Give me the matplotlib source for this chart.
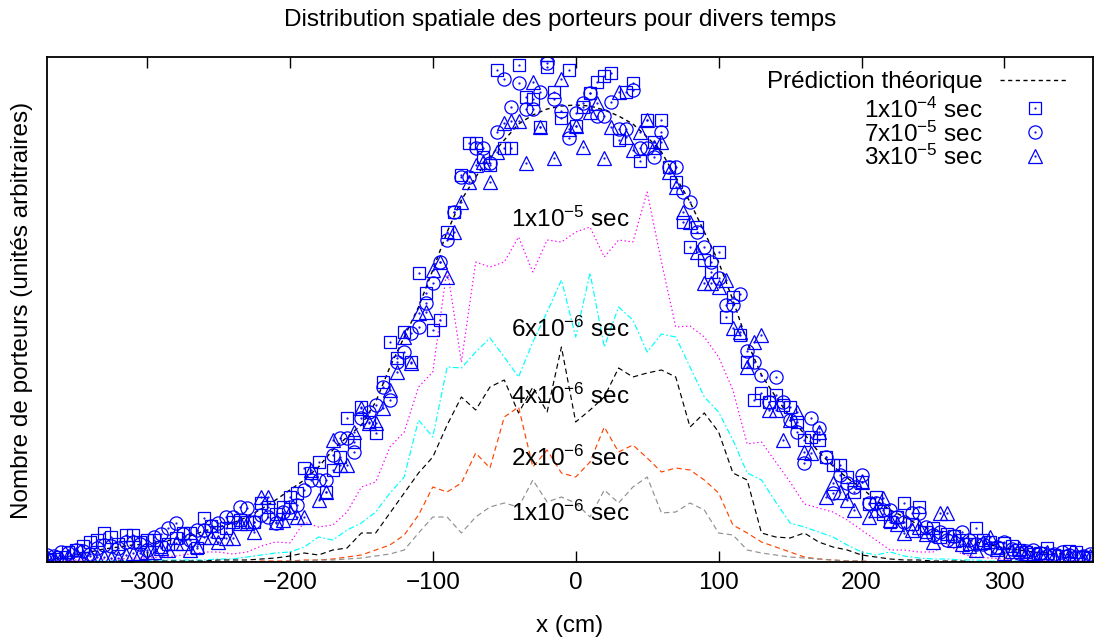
import numpy as np
import matplotlib
matplotlib.use('Agg')
import matplotlib.pyplot as plt

plt.rcParams['font.family'] = ['Liberation Sans', 'DejaVu Sans']
plt.rcParams['mathtext.fontset'] = 'custom'
plt.rcParams['mathtext.rm'] = 'Liberation Sans'
plt.rcParams['mathtext.default'] = 'regular'
FS = 17.5

# positions (cm), one value every 10 cm, plus the half steps for the measured points
x_cm = np.arange(-370, 361, 10)
x_half = np.arange(-365, 356, 10)

# theoretical prediction (arbitrary units)
theorie = [2, 4, 7, 10, 13, 15, 17, 18, 20, 23,
           26, 31, 35, 39, 45, 53, 62, 72, 82, 95,
           112, 125, 137, 160, 195, 225, 255, 292, 330, 362,
           385, 405, 422, 438, 447, 453, 456, 457, 456, 452,
           446, 438, 425, 410, 385, 360, 330, 300, 262, 220,
           187, 165, 145, 128, 110, 96, 84, 74, 62, 52,
           45, 37, 32, 28, 24, 20, 17, 14, 12, 10,
           9, 8, 7, 6]

# measured points, on x_cm
pts_1e4 = [2, 5, 12, 20, 29, 18, 27, 22, 15, 24,
           29, 44, 30, 40, 40, 59, 48, 65, 94, 100,
           92, 144, 155, 129, 220, 230, 289, 232, 330, 387,
           419, 397, 414, 497, 463, 495, 444, 436, 469, 486,
           422, 479, 442, 442, 380, 315, 302, 310, 265, 200,
           169, 167, 155, 122, 122, 97, 85, 80, 65, 40,
           59, 55, 34, 28, 22, 34, 20, 19, 12, 8,
           14, 6, 10, 4]
pts_7e5 = [7, 10, 12, 8, 17, 14, 20, 12, 28, 39,
           22, 32, 39, 45, 54, 47, 39, 55, 72, 82,
           107, 124, 144, 157, 162, 210, 235, 279, 322, 385,
           414, 399, 483, 479, 453, 499, 451, 449, 469, 446,
           433, 472, 414, 430, 395, 360, 315, 284, 257, 211,
           187, 185, 142, 99, 134, 69, 79, 87, 59, 52,
           40, 49, 27, 22, 30, 18, 14, 20, 9, 12,
           6, 10, 5, 8]
pts_3e5 = [5, 4, 8, 6, 5, 4, 9, 10, 14, 19,
           12, 25, 20, 24, 39, 65, 40, 50, 45, 62,
           122, 97, 154, 139, 172, 225, 249, 292, 285, 360,
           397, 380, 439, 441, 480, 508, 483, 436, 450, 404,
           470, 412, 442, 420, 375, 340, 279, 275, 234, 195,
           227, 152, 142, 110, 130, 79, 62, 80, 52, 42,
           29, 35, 20, 49, 18, 12, 25, 9, 14, 7,
           10, 5, 8, 6]

# measured points, on x_half
pts_1e4_b = [3, 10, 16, 22, 25, 27, 20, 22, 18, 29,
             14, 36, 34, 42, 40, 55, 55, 69, 89, 70,
             105, 120, 140, 180, 204, 200, 269, 242, 350, 419,
             405, 492, 414, 465, 435, 470, 492, 455, 480, 489,
             470, 401, 420, 395, 340, 335, 290, 245, 227, 162,
             160, 157, 140, 125, 105, 97, 70, 58, 48, 45,
             38, 30, 25, 26, 18, 22, 14, 16, 10, 9,
             7, 11, 5]
pts_7e5_b = [6, 9, 11, 14, 16, 20, 18, 25, 34, 28,
             32, 36, 45, 55, 40, 45, 50, 57, 82, 82,
             124, 110, 150, 175, 200, 229, 259, 300, 350, 385,
             414, 430, 455, 453, 470, 463, 424, 459, 446, 460,
             433, 414, 405, 395, 370, 330, 300, 257, 268, 200,
             160, 160, 130, 144, 105, 87, 75, 59, 52, 45,
             49, 35, 30, 26, 22, 18, 15, 13, 11, 9,
             8, 7, 6]
pts_3e5_b = [4, 6, 5, 5, 4, 7, 9, 10, 12, 19,
             16, 25, 24, 39, 30, 65, 42, 45, 92, 70,
             97, 130, 139, 154, 190, 199, 250, 300, 330, 380,
             400, 410, 441, 399, 435, 404, 433, 415, 459, 435,
             425, 430, 415, 390, 350, 310, 279, 282, 230, 220,
             152, 122, 150, 109, 65, 70, 52, 45, 64, 38,
             32, 28, 49, 22, 16, 20, 13, 11, 9, 8,
             6, 7, 5]

# simulated curves at early times
t_1e5 = [1, 1, 2, 2, 3, 3, 4, 4, 5, 6,
         8, 10, 10, 8, 10, 16, 20, 19, 40, 35,
         37, 50, 75, 80, 115, 130, 175, 190, 294, 200,
         300, 295, 300, 325, 290, 322, 320, 330, 335, 305,
         322, 320, 370, 300, 235, 236, 225, 205, 172, 118,
         120, 100, 80, 58, 54, 50, 42, 32, 22, 12,
         12, 10, 10, 18, 8, 5, 4, 3, 2, 2,
         1, 1, 1, 0]
t_6e6 = [0, 0, 0, 1, 1, 1, 1, 1, 2, 2,
         2, 2, 3, 3, 5, 7, 9, 10, 15, 25,
         22, 32, 39, 50, 69, 85, 142, 125, 195, 194,
         210, 224, 205, 185, 220, 250, 282, 225, 289, 215,
         255, 242, 210, 228, 225, 195, 165, 150, 122, 89,
         82, 60, 39, 35, 30, 25, 17, 10, 7, 10,
         6, 4, 3, 3, 2, 2, 1, 1, 1, 0,
         0, 0, 0, 0]
t_4e6 = [0, 0, 0, 0, 0, 1, 1, 1, 1, 1,
         1, 1, 2, 2, 2, 3, 4, 6, 9, 7,
         12, 14, 29, 29, 49, 69, 89, 105, 137, 165,
         152, 175, 182, 149, 175, 150, 215, 140, 152, 165,
         194, 185, 189, 192, 185, 135, 149, 130, 89, 82,
         29, 25, 24, 29, 20, 15, 12, 7, 5, 3,
         2, 2, 1, 1, 1, 0, 0, 0, 0, 0,
         0, 0, 0, 0]
t_2e6 = [0, 0, 0, 0, 0, 0, 0, 0, 0, 0,
         0, 0, 0, 0, 0, 1, 1, 1, 2, 2,
         3, 5, 7, 12, 17, 27, 47, 75, 70, 79,
         109, 94, 145, 155, 95, 112, 89, 85, 100, 135,
         110, 117, 104, 90, 94, 92, 82, 69, 37, 29,
         20, 15, 10, 5, 3, 2, 1, 1, 0, 0,
         0, 0, 0, 0, 0, 0, 0, 0, 0, 0,
         0, 0, 0, 0]
t_1e6 = [0, 0, 0, 0, 0, 0, 0, 0, 0, 0,
         0, 0, 0, 0, 0, 0, 0, 1, 1, 2,
         2, 3, 4, 6, 8, 12, 29, 45, 45, 29,
         45, 55, 59, 55, 82, 60, 65, 59, 45, 72,
         59, 75, 85, 49, 50, 59, 52, 29, 27, 12,
         9, 7, 5, 4, 3, 2, 1, 1, 0, 0,
         0, 0, 0, 0, 0, 0, 0, 0, 0, 0,
         0, 0, 0, 0]

courbe_labels = ['1x10$^{-5}$ sec', '6x10$^{-6}$ sec', '4x10$^{-6}$ sec',
                 '2x10$^{-6}$ sec', '1x10$^{-6}$ sec']
legend_labels = ['Prédiction théorique', '1x10$^{-4}$ sec',
                 '7x10$^{-5}$ sec', '3x10$^{-5}$ sec']

W, H = 1097, 642
fig = plt.figure(figsize=(W / 100, H / 100), dpi=100)
ax = fig.add_axes([47 / W, 80 / H, 1046 / W, 505 / H])

styles = [('#ff00ff', (0, (1.2, 2.2))),
          ('#00ffff', (0, (5, 2, 1.5, 2))),
          ('black', (0, (4.5, 3))),
          ('#ff4500', (0, (4.5, 3))),
          ('#909090', (0, (4.5, 3)))]
for vals, (col, ls) in zip([t_1e5, t_6e6, t_4e6, t_2e6, t_1e6], styles):
    ax.plot(x_cm, vals, color=col, ls=ls, lw=0.85)

ax.plot(x_cm, theorie, color='black', ls=(0, (3, 2.5)), lw=1.0)

blue = '#0000ff'
mk = [('s', 9), ('o', 9.5), ('^', 9.5)]
series = [(pts_1e4, pts_1e4_b), (pts_7e5, pts_7e5_b), (pts_3e5, pts_3e5_b)]
for (va, vb), (m, ms) in zip(series, mk):
    xx = np.concatenate([x_cm, x_half])
    yy = np.concatenate([va, vb])
    ax.plot(xx, yy, ls='none', marker=m, ms=ms, mfc='none', mec=blue, mew=0.9)
    ax.plot(xx, yy, ls='none', marker='.', ms=1.2, color=blue)

# labels of the early-time curves
label_y = [335, 225, 158, 96, 41]
for txt, yy in zip(courbe_labels, label_y):
    ax.text(-45, yy, txt, fontsize=FS, ha='left', va='baseline')

ax.set_xlim(-370, 362)
ax.set_ylim(0, 505)
ax.set_xticks([-300, -200, -100, 0, 100, 200, 300])
ax.set_yticks([])
ax.tick_params(axis='x', direction='in', top=True, length=8, width=1.0,
               labelsize=FS, pad=7)
for s in ax.spines.values():
    s.set_linewidth(1.3)

# legend drawn by hand (top right)
def fx(px):
    return px / W

def fy(py):
    return 1 - py / H

fig.text(fx(983), fy(88), legend_labels[0], fontsize=FS, ha='right', va='baseline')
fig.add_artist(plt.Line2D([fx(1000), fx(1066)], [fy(80), fy(80)], color='black',
                          ls=(0, (3, 2.5)), lw=1.0))
rows = [(118, 107.5), (142, 132), (165, 155.5)]
for lab, (m, ms), (base, my) in zip(legend_labels[1:], mk, rows):
    fig.text(fx(983), fy(base), lab, fontsize=FS, ha='right', va='baseline')
    fig.add_artist(plt.Line2D([fx(1035)], [fy(my)], ls='none', marker=m, ms=ms,
                              mfc='none', mec=blue, mew=0.9))
    fig.add_artist(plt.Line2D([fx(1035)], [fy(my)], ls='none', marker='.', ms=1.2,
                              color=blue))

fig.text(fx(560), fy(26), 'Distribution spatiale des porteurs pour divers temps',
         fontsize=FS, ha='center', va='baseline')
fig.text(fx(570), fy(632), 'x (cm)', fontsize=FS, ha='center', va='baseline')
fig.text(fx(22), fy(310), 'Nombre de porteurs (unités arbitraires)', fontsize=FS,
         ha='center', va='center', rotation=90)

fig.savefig('out.png', dpi=100)
